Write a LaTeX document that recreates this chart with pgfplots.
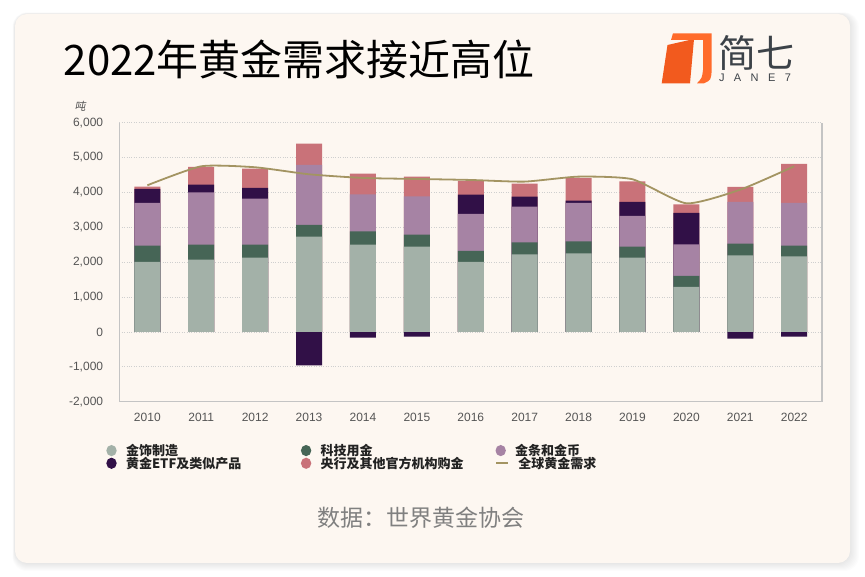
\documentclass[border=0pt]{standalone}
\usepackage{pgfplots}
\pgfplotsset{compat=1.18}
\usepackage{pgfplotstable}
\usepackage{fontspec}
\setmainfont{Liberation Sans}
\newfontfamily\cjk{Noto Sans CJK SC}
\newfontfamily\cjkslant[FakeSlant=0.2]{Noto Sans CJK SC}

\definecolor{cardbg}{HTML}{FDF7F1}
\definecolor{jewel}{HTML}{A3B1A8}
\definecolor{tech}{HTML}{466556}
\definecolor{barcoin}{HTML}{A683A4}
\definecolor{etf}{HTML}{311047}
\definecolor{cbank}{HTML}{C97279}
\definecolor{total}{HTML}{A39462}
\definecolor{ticktext}{HTML}{555555}
\definecolor{gridc}{HTML}{CFCFCF}
\definecolor{framec}{HTML}{C4C4C4}
\definecolor{legtext}{HTML}{222222}
\definecolor{srcgray}{HTML}{808080}
\definecolor{logogray}{HTML}{3C4248}
\definecolor{logoorange}{HTML}{FF6B2B}
\definecolor{logoorangeB}{HTML}{F25A1E}

% legend keys: a dot or a short line, centred on the text
\newcommand{\legdot}[1]{\tikz[baseline=-5.2pt]\fill[#1] (0,0) ellipse (5.2pt and 5.6pt);}
\newcommand{\legline}[1]{\tikz[baseline=-5.2pt]{\path (-5.2pt,-5pt) rectangle (5.2pt,5pt);
  \draw[#1, line width=1.6pt] (-6pt,0) -- (6pt,0);}}
\newcommand{\legentry}[2]{\makebox[194.6pt][l]{#1\hspace{9.3pt}#2}}

% Top of each stacked segment (tonnes); ETF is negative in 2013-2015, 2021, 2022
\pgfplotstableread{
x  jew   tech  bar   etf   cb    total
0  2007  2475  3699  4100  4167  4205
1  2074  2504  4005  4225  4731  4750
2  2131  2504  3823  4129  4683  4722
3  2734  3068  4789  -956  5400  4521
4  2504  2887  3947  -162  4540  4416
5  2447  2791  3890  -134  4454  4387
6  2007  2323  3384  3938  4330  4358
7  2227  2571  3594  3881  4253  4311
8  2256  2600  3699  3766  4416  4454
9  2131  2447  3326  3728  4320  4378
10 1290  1606  2514  3412  3661  3689
11 2198  2533  3728  -191  4158  4081
12 2170  2475  3699  -134  4817  4750
}\goldtops

\begin{document}
\begin{tikzpicture}
% page, card and shadow
\begin{scope}[x=1pt,y=1pt]
\fill[white] (0,0) rectangle (865,577);
\foreach \s in {1,...,8}{
  \fill[black, opacity=0.012, rounded corners=14pt]
    (15-0.3*\s,14-1.0*\s) rectangle (850+1.1*\s,563+0.2*\s);
}
\fill[cardbg, rounded corners=12pt] (15,14) rectangle (850,563);

% logo
\fill[logoorangeB] (661.7,493.7) -- (667.5,532) -- (694,538) -- (690,493.7) -- cycle;
\fill[logoorange] (673,543.7) -- (711.7,543.7) -- (711.7,507)
   .. controls (711,497) .. (704,493.7) -- (697,493.7)
   .. controls (702,499) .. (703,507) -- (703,537) -- (671,537) -- cycle;
\node[font=\cjk\fontsize{38}{38}\selectfont, text=logogray, inner sep=0pt] at (756,524.5) {简七};
\node[font=\fontsize{11}{11}\selectfont, text=logogray, inner sep=0pt] at (755,499.5)
   {\hbox to 72pt{J\hfil A\hfil N\hfil E\hfil 7}};

% title, unit and source
\node[anchor=base west, inner sep=0pt, font=\cjk\fontsize{42}{42}\selectfont, text=black]
   at (63.5,501) {2022年黄金需求接近高位};
\node[font=\cjkslant\fontsize{11}{11}\selectfont, text=ticktext, inner sep=0pt] at (80,471) {吨};
\node[font=\cjk\fontsize{23}{23}\selectfont, text=srcgray, inner sep=0pt] at (421,59.5) {数据：世界黄金协会};
\end{scope}

\begin{axis}[
  at={(119.3pt,175.3pt)}, anchor=south west,
  width=702.4pt, height=279pt, scale only axis,
  xmin=-0.52, xmax=12.51, ymin=-2000, ymax=6000,
  axis x line*=bottom, axis y line*=left,
  axis line style={framec, line width=1pt},
  xtick={0,...,12},
  xticklabels={2010,2011,2012,2013,2014,2015,2016,2017,2018,2019,2020,2021,2022},
  ytick={-2000,-1000,...,6000},
  scaled y ticks=false,
  major tick length=0pt,
  ymajorgrids,
  grid style={gridc, dotted, line width=0.7pt},
  /pgf/number format/assume math mode=true,
  /pgf/number format/1000 sep={,},
  yticklabel style={font=\fontsize{12}{12}\selectfont, text=ticktext, inner sep=0pt, xshift=-16pt},
  xticklabel style={font=\fontsize{12}{12}\selectfont, text=ticktext, inner sep=0pt, yshift=-11.5pt},
  legend columns=3,
  legend style={at={(-0.0185,-0.158)}, anchor=north west, draw=none, fill=none,
    inner sep=0pt, outer sep=0pt, row sep=0pt, column sep=0pt,
    nodes={inner sep=0pt, text height=10pt, text depth=2.7pt, anchor=base west,
      font=\cjk\bfseries\fontsize{13}{13}\selectfont, text=legtext}},
  after end axis/.code={
    \draw[framec, line width=1.6pt] (rel axis cs:1,0) -- (rel axis cs:1,1);
  },
]
% segments drawn back to front, each from zero up to its cumulative top
\addplot[ybar, bar width=26pt, bar shift=0pt, fill=cbank, draw=none, forget plot]
  table[x=x, y=cb] {\goldtops};
\addplot[ybar, bar width=26pt, bar shift=0pt, fill=etf, draw=none, forget plot]
  table[x=x, y=etf] {\goldtops};
\addplot[ybar, bar width=26pt, bar shift=0pt, fill=barcoin, draw=none, forget plot]
  table[x=x, y=bar] {\goldtops};
\addplot[ybar, bar width=26pt, bar shift=0pt, fill=tech, draw=none, forget plot]
  table[x=x, y=tech] {\goldtops};
\addplot[ybar, bar width=26pt, bar shift=0pt, fill=jewel, draw=none, forget plot]
  table[x=x, y=jew] {\goldtops};
% total demand
\addplot[total, line width=1.8pt, smooth, tension=0.35, no marks, forget plot]
  table[x=x, y=total] {\goldtops};

% legend: the keys are set inside the entry text
\addlegendimage{empty legend}
\addlegendentry{\legentry{\legdot{jewel}}{金饰制造}}
\addlegendimage{empty legend}
\addlegendentry{\legentry{\legdot{tech}}{科技用金}}
\addlegendimage{empty legend}
\addlegendentry{\legentry{\legdot{barcoin}}{金条和金币}}
\addlegendimage{empty legend}
\addlegendentry{\legentry{\legdot{etf}}{黄金ETF及类似产品}}
\addlegendimage{empty legend}
\addlegendentry{\legentry{\legdot{cbank}}{央行及其他官方机构购金}}
\addlegendimage{empty legend}
\addlegendentry{\legentry{\legline{total}}{全球黄金需求}}
\end{axis}
\end{tikzpicture}
\end{document}
